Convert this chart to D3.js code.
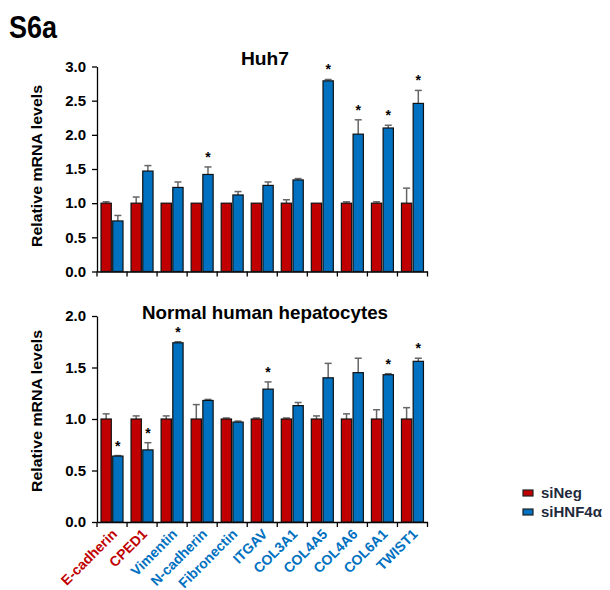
<!DOCTYPE html>
<html><head><meta charset="utf-8">
<script src="https://cdn.jsdelivr.net/npm/d3@7"></script>
<style>body{margin:0;background:#fff}</style></head>
<body><svg id="c" width="610" height="590"></svg>
<script>
const categories = ["E-cadherin","CPED1","Vimentin","N-cadherin","Fibronectin","ITGAV","COL3A1","COL4A5","COL4A6","COL6A1","TWIST1"];
const labelGroup = ["epi","epi","mes","mes","mes","mes","mes","mes","mes","mes","mes"];
const series = ["siNeg","siHNF4α"];
// Huh7
const huhNeg = [1,1,1,1,1,1,1,1,1,1,1];
const huhNegErr = [0.02,0.09,0.0,0.0,0.0,0.0,0.05,0.0,0.02,0.02,0.22];
const huhSi = [0.74,1.47,1.23,1.42,1.12,1.26,1.34,2.79,2.01,2.10,2.46];
const huhSiErr = [0.08,0.08,0.08,0.11,0.05,0.05,0.02,0.02,0.21,0.04,0.19];
const huhStar = [false,false,false,true,false,false,false,true,true,true,true];
const huhTicks = [0,0.5,1.0,1.5,2.0,2.5,3.0];
// Normal human hepatocytes
const nhhNeg = [1,1,1,1,1,1,1,1,1,1,1];
const nhhNegErr = [0.05,0.03,0.03,0.14,0.01,0.01,0.01,0.03,0.05,0.09,0.11];
const nhhSi = [0.64,0.70,1.74,1.18,0.97,1.29,1.13,1.40,1.45,1.43,1.56];
const nhhSiErr = [0.005,0.07,0.01,0.01,0.01,0.07,0.03,0.14,0.14,0.01,0.03];
const nhhStar = [true,true,true,false,false,true,false,false,false,true,true];
const nhhTicks = [0,0.5,1.0,1.5,2.0];

const colors = {"siNeg":"#C00000","siHNF4α":"#0070C0"};
const labelColors = {epi:"#C00000", mes:"#0070C0"};
const font = "Arial, 'Liberation Sans', sans-serif";
const svg = d3.select("#c").style("font-family", font);

svg.append("text").attr("x",9).attr("y",38).attr("font-size",31).attr("font-weight","bold")
  .attr("textLength",48).attr("lengthAdjust","spacingAndGlyphs").text("S6a");

function panel(opts){
  const {top,bottom,ymax,ticks,neg,negErr,si,siErr,star,title,titleY,titleW,labelY,showLabels} = opts;
  const g = svg.append("g");
  const x = d3.scaleBand().domain(categories).range([97,427.5]).padding(0);
  const y = d3.scaleLinear().domain([0,ymax]).range([bottom,top]);
  const sub = d3.scaleBand().domain(series).range([4,26]).paddingInner(0.12);
  const ya = g.append("g").attr("transform","translate(97,0)")
    .call(d3.axisLeft(y).tickValues(ticks).tickFormat(d3.format(".1f")).tickSize(5).tickSizeOuter(0));
  ya.select(".domain").attr("stroke","#000").attr("stroke-width",1.3);
  ya.selectAll(".tick line").attr("stroke","#000").attr("stroke-width",1.3);
  ya.selectAll(".tick text").attr("font-size",15).attr("font-weight","bold").attr("fill","#000").attr("font-family",font).attr("x",-11);
  const xa = g.append("g").attr("transform",`translate(0,${bottom})`)
    .call(d3.axisBottom(x).tickSize(5).tickSizeOuter(0).tickFormat(""));
  xa.select(".domain").attr("stroke","#000").attr("stroke-width",1.3);
  xa.selectAll(".tick line").remove();
  const edges = categories.map(c=>x(c)).concat([x.range()[1]]);
  xa.selectAll(".edge").data(edges).enter().append("line")
    .attr("x1",d=>d).attr("x2",d=>d).attr("y1",0).attr("y2",5).attr("stroke","#000").attr("stroke-width",1.3);
  const rows = [];
  categories.forEach((c,i)=>{
    rows.push({c,s:"siNeg",v:neg[i],e:negErr[i],star:false});
    rows.push({c,s:"siHNF4α",v:si[i],e:siErr[i],star:star[i]});
  });
  const bg = g.append("g");
  rows.forEach(r=>{
    const bx = x(r.c)+sub(r.s), bw = sub.bandwidth(), cx = bx+bw/2;
    if(r.e>0.004){
      bg.append("line").attr("x1",cx).attr("x2",cx).attr("y1",y(r.v)).attr("y2",y(r.v+r.e)).attr("stroke","#666").attr("stroke-width",1.5);
      bg.append("line").attr("x1",cx-3.5).attr("x2",cx+3.5).attr("y1",y(r.v+r.e)).attr("y2",y(r.v+r.e)).attr("stroke","#666").attr("stroke-width",1.5);
    }
    bg.append("rect").attr("x",bx).attr("y",y(r.v)).attr("width",bw).attr("height",y(0)-y(r.v))
      .attr("fill",colors[r.s]).attr("stroke","#111").attr("stroke-width",1.2);
    if(r.star){
      bg.append("text").attr("x",cx).attr("y",y(r.v+r.e)-5).attr("text-anchor","middle")
        .attr("font-size",14).attr("font-weight","bold").text("*");
    }
  });
  svg.append("text").attr("x",265).attr("y",titleY).attr("text-anchor","middle")
    .attr("font-size",19).attr("font-weight","bold")
    .attr("textLength",titleW).attr("lengthAdjust","spacingAndGlyphs").text(title);
  svg.append("text").attr("transform",`translate(42,${labelY}) rotate(-90)`)
    .attr("text-anchor","middle").attr("font-size",15.5).attr("font-weight","bold")
    .attr("textLength",162).attr("lengthAdjust","spacingAndGlyphs").text("Relative mRNA levels");
  if(showLabels){
    categories.forEach((c,i)=>{
      svg.append("text").attr("transform",`translate(${x(c)+x.bandwidth()/2+6},${bottom+13}) rotate(-45)`)
        .attr("text-anchor","end").attr("font-size",14).attr("font-weight","bold")
        .attr("fill",labelColors[labelGroup[i]]).text(c);
    });
  }
}

panel({top:66.5,bottom:271.5,ymax:3,ticks:huhTicks,neg:huhNeg,negErr:huhNegErr,si:huhSi,siErr:huhSiErr,star:huhStar,title:"Huh7",titleY:65,titleW:48,labelY:166,showLabels:false});
panel({top:316,bottom:522,ymax:2,ticks:nhhTicks,neg:nhhNeg,negErr:nhhNegErr,si:nhhSi,siErr:nhhSiErr,star:nhhStar,title:"Normal human hepatocytes",titleY:319,titleW:246,labelY:411,showLabels:true});

const lg = svg.append("g").attr("transform","translate(523,490)");
series.forEach((s,i)=>{
  lg.append("rect").attr("x",0).attr("y",i*19).attr("width",10).attr("height",6)
    .attr("fill",colors[s]).attr("stroke","#222").attr("stroke-width",1.2);
  lg.append("text").attr("x",18).attr("y",i*19+7.5).attr("font-size",15).attr("font-weight","bold")
    .attr("fill","#1f2a3c").text(s);
});
</script></body></html>
